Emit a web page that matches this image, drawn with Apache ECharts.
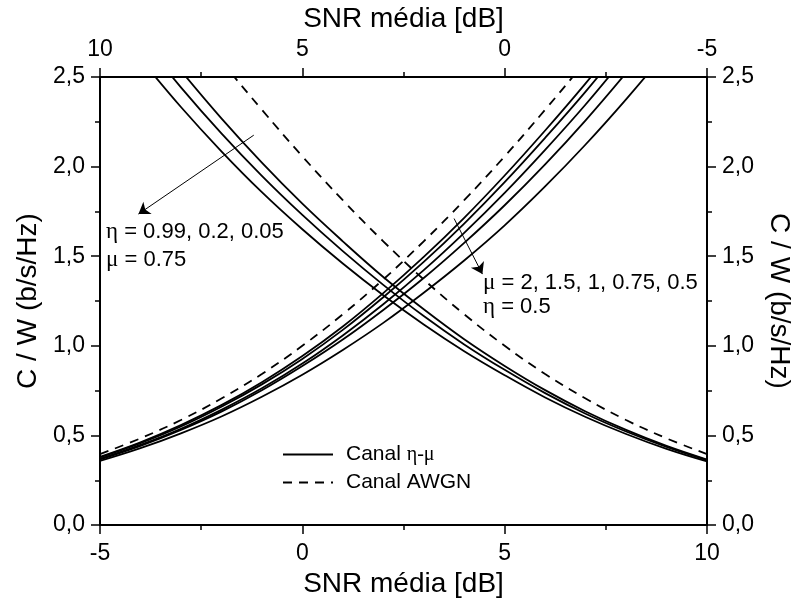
<!DOCTYPE html>
<html>
<head>
<meta charset="utf-8">
<script src="https://cdn.jsdelivr.net/npm/echarts@6/dist/echarts.min.js"></script>
<style>
  html, body { margin: 0; padding: 0; background: #fff; overflow: hidden; }
  #chart { width: 801px; height: 603px; }
</style>
</head>
<body>
<div id="chart"></div>
<script>
// Average SNR grid in dB
const snrDb = [-5, -4, -3, -2, -1, 0, 1, 2, 3, 4, 5, 6, 7, 8, 9, 10];

// AWGN channel capacity (b/s/Hz)
const awgn = [0.396, 0.484, 0.586, 0.706, 0.843, 1.000, 1.176, 1.370, 1.583, 1.812, 2.057, 2.317, 2.588, 2.870, 3.161, 3.459];

// eta-mu channel, eta = 0.5, mu = 2, 1.5, 1, 0.75, 0.5 (plotted against bottom SNR axis)
const muCurve2   = [0.381, 0.462, 0.558, 0.669, 0.797, 0.943, 1.108, 1.294, 1.496, 1.714, 1.950, 2.201, 2.464, 2.742, 3.029, 3.324];
const muCurve15  = [0.377, 0.457, 0.550, 0.660, 0.785, 0.927, 1.089, 1.271, 1.468, 1.682, 1.913, 2.160, 2.418, 2.694, 2.979, 3.273];
const muCurve1   = [0.369, 0.447, 0.537, 0.643, 0.763, 0.901, 1.058, 1.232, 1.422, 1.630, 1.853, 2.093, 2.346, 2.618, 2.901, 3.193];
const muCurve075 = [0.366, 0.442, 0.531, 0.633, 0.752, 0.887, 1.035, 1.200, 1.378, 1.574, 1.784, 2.012, 2.258, 2.522, 2.801, 3.090];
const muCurve05  = [0.358, 0.429, 0.512, 0.606, 0.716, 0.839, 0.977, 1.128, 1.296, 1.476, 1.672, 1.889, 2.123, 2.375, 2.643, 2.927];

// eta-mu channel, mu = 0.75, eta = 0.99, 0.2, 0.05 (plotted against the reversed top SNR axis)
const etaCurve099 = [0.366, 0.442, 0.531, 0.634, 0.753, 0.888, 1.037, 1.204, 1.384, 1.583, 1.793, 2.022, 2.269, 2.535, 2.815, 3.105];
const etaCurve02  = [0.362, 0.436, 0.522, 0.621, 0.736, 0.866, 1.008, 1.166, 1.340, 1.528, 1.730, 1.948, 2.185, 2.442, 2.719, 3.005];
const etaCurve005 = [0.355, 0.425, 0.508, 0.603, 0.712, 0.836, 0.970, 1.119, 1.282, 1.459, 1.650, 1.857, 2.085, 2.332, 2.601, 2.884];

// Axis tick settings
const snrMin = -5, snrMax = 10, snrStep = 5;
const capMin = 0, capMax = 2.5, capStep = 0.5;

const FONT = 'Liberation Sans';
const GREEK = 'Liberation Serif';

function pairs(ys) { return snrDb.map((x, i) => [x, ys[i]]); }

function curve(name, ys, xAxisIndex, dashed) {
  return {
    name: name,
    type: 'line',
    xAxisIndex: xAxisIndex,
    yAxisIndex: 0,
    data: pairs(ys),
    symbol: 'none',
    showSymbol: false,
    smooth: 0.4,
    clip: true,
    silent: true,
    itemStyle: { color: '#000' },
    lineStyle: { color: '#000', width: 1.8, type: dashed ? [9, 7] : 'solid' }
  };
}

const xAxisCommon = {
  type: 'value',
  min: snrMin, max: snrMax, interval: snrStep,
  nameLocation: 'middle',
  nameTextStyle: { fontFamily: FONT, fontSize: 28, color: '#000' },
  axisLine: { show: true, onZero: false, lineStyle: { color: '#000', width: 2 } },
  axisTick: { show: true, inside: false, length: 9, lineStyle: { color: '#000', width: 1.5 } },
  minorTick: { show: true, splitNumber: 2, length: 5, lineStyle: { color: '#000', width: 1.5 } },
  splitLine: { show: false }
};

const yAxisCommon = {
  type: 'value',
  min: capMin, max: capMax, interval: capStep,
  nameLocation: 'middle',
  nameTextStyle: { fontFamily: FONT, fontSize: 28, color: '#000' },
  axisLine: { show: true, onZero: false, lineStyle: { color: '#000', width: 2 } },
  axisTick: { show: true, inside: false, length: 9, lineStyle: { color: '#000', width: 1.5 } },
  minorTick: { show: true, splitNumber: 2, length: 5, lineStyle: { color: '#000', width: 1.5 } },
  axisLabel: {
    fontFamily: FONT, fontSize: 23, color: '#000', margin: 15,
    formatter: v => v.toFixed(1).replace('.', ',')
  },
  splitLine: { show: false }
};

const chart = echarts.init(document.getElementById('chart'), null, { renderer: 'canvas' });

// Pointer arrows for the two curve families
const risingAwgn = curve('Canal AWGN', awgn, 0, true);
risingAwgn.markLine = {
  silent: true,
  animation: false,
  symbol: ['none', 'arrow'],
  symbolSize: 11,
  label: { show: false },
  lineStyle: { color: '#000', width: 1, type: 'solid' },
  data: [
    [{ coord: [-1.2, 2.175] }, { coord: [-4.05, 1.735] }],
    [{ coord: [3.75, 1.71] }, { coord: [4.45, 1.40] }]
  ]
};

function annotation(left, top, greek, rest) {
  return {
    type: 'text', left: left, top: top, silent: true,
    style: {
      text: '{g|' + greek + '}{t|' + rest + '}',
      rich: {
        t: { fontFamily: FONT, fontSize: 22, fill: '#000' },
        g: { fontFamily: GREEK, fontSize: 23, fill: '#000' }
      }
    }
  };
}

const option = {
  backgroundColor: '#fff',
  animation: false,
  grid: { left: 100, top: 76, width: 612, height: 452, containLabel: false },
  xAxis: [
    Object.assign({}, xAxisCommon, {
      position: 'bottom', name: 'SNR média [dB]', nameGap: 44,
      axisLabel: { fontFamily: FONT, fontSize: 23, color: '#000', margin: 17 }
    }),
    Object.assign({}, xAxisCommon, {
      position: 'top', inverse: true, name: 'SNR média [dB]', nameGap: 36,
      axisLabel: { fontFamily: FONT, fontSize: 23, color: '#000', margin: 16 }
    })
  ],
  yAxis: [
    Object.assign({}, yAxisCommon, { position: 'left', name: 'C / W (b/s/Hz)', nameGap: 57, nameRotate: 90 }),
    Object.assign({}, yAxisCommon, { position: 'right', name: 'C / W (b/s/Hz)', nameGap: 58, nameRotate: -90 })
  ],
  legend: {
    data: ['Canal η-μ', 'Canal AWGN'],
    orient: 'vertical',
    left: 282, top: 444,
    padding: 0,
    itemWidth: 50, itemHeight: 20, itemGap: 7,
    selectedMode: false,
    itemStyle: { opacity: 0, borderWidth: 0 },
    formatter: name => name === 'Canal η-μ' ? '{t|Canal }{g|η-μ}' : '{t|' + name + '}',
    textStyle: {
      padding: [0, 0, 0, 8],
      rich: {
        t: { fontFamily: FONT, fontSize: 21, color: '#000' },
        g: { fontFamily: GREEK, fontSize: 20, color: '#000' }
      }
    }
  },
  series: [
    risingAwgn,
    curve('Canal η-μ', muCurve2, 0, false),
    curve('Canal η-μ', muCurve15, 0, false),
    curve('Canal η-μ', muCurve1, 0, false),
    curve('Canal η-μ', muCurve075, 0, false),
    curve('Canal η-μ', muCurve05, 0, false),
    curve('Canal AWGN', awgn, 1, true),
    curve('Canal η-μ', etaCurve099, 1, false),
    curve('Canal η-μ', etaCurve02, 1, false),
    curve('Canal η-μ', etaCurve005, 1, false)
  ],
  graphic: [
    annotation(106, 220, 'η', ' = 0.99, 0.2, 0.05'),
    annotation(106, 248, 'μ', ' = 0.75'),
    annotation(483, 271, 'μ', ' = 2, 1.5, 1, 0.75, 0.5'),
    annotation(483, 295, 'η', ' = 0.5')
  ]
};

chart.setOption(option);
</script>
</body>
</html>
